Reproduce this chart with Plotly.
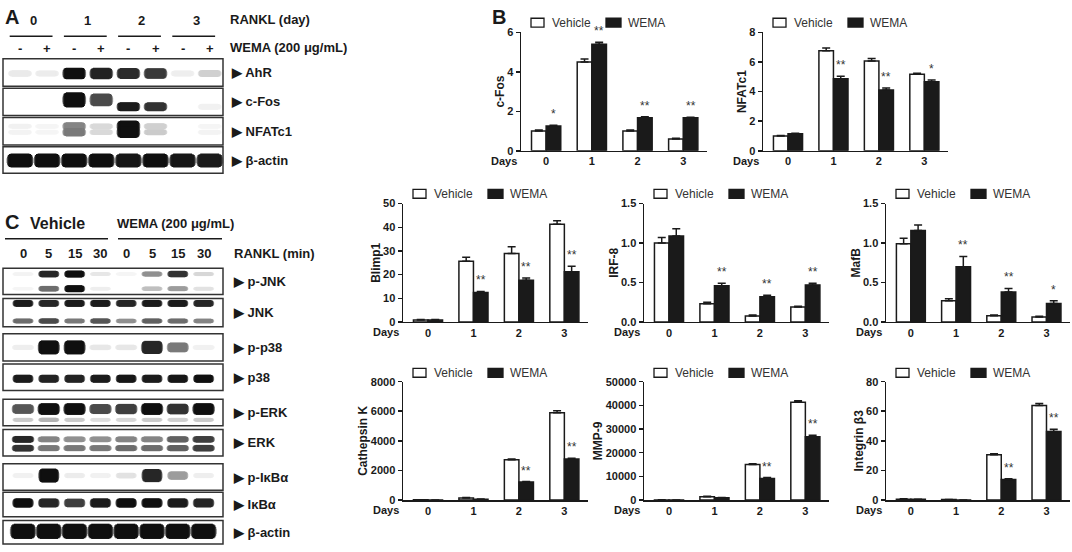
import plotly.graph_objects as go

W, H = 1072, 552
FONT = "Liberation Sans, Arial, Helvetica, sans-serif"
INK = "#1a1a1a"


def px_x(p):
    return p / W


def px_y(p):
    return 1 - p / H


# ---------------------------------------------------------------- panel B data
DAYS = [0, 1, 2, 3]
DAY_TICKS = ["0", "1", "2", "3"]
SERIES_NAMES = ["Vehicle", "WEMA"]

cfos_vehicle = [1.00, 4.50, 1.00, 0.60]
cfos_vehicle_sem = [0.05, 0.15, 0.05, 0.03]
cfos_wema = [1.25, 5.40, 1.68, 1.67]
cfos_wema_sem = [0.04, 0.10, 0.04, 0.03]
cfos_sig = ["*", "**", "**", "**"]

nfatc1_vehicle = [1.00, 6.76, 6.06, 5.18]
nfatc1_vehicle_sem = [0.04, 0.18, 0.17, 0.06]
nfatc1_wema = [1.15, 4.87, 4.10, 4.67]
nfatc1_wema_sem = [0.03, 0.17, 0.15, 0.11]
nfatc1_sig = ["", "**", "**", "*"]

blimp1_vehicle = [0.8, 25.6, 28.9, 41.3]
blimp1_vehicle_sem = [0.2, 1.7, 2.9, 1.5]
blimp1_wema = [0.8, 12.4, 17.6, 21.2]
blimp1_wema_sem = [0.2, 0.5, 1.0, 2.3]
blimp1_sig = ["", "**", "**", "**"]

irf8_vehicle = [1.00, 0.23, 0.075, 0.19]
irf8_vehicle_sem = [0.07, 0.02, 0.015, 0.01]
irf8_wema = [1.09, 0.46, 0.32, 0.47]
irf8_wema_sem = [0.09, 0.03, 0.02, 0.02]
irf8_sig = ["", "**", "**", "**"]

mafb_vehicle = [0.99, 0.27, 0.08, 0.062]
mafb_vehicle_sem = [0.07, 0.025, 0.008, 0.012]
mafb_wema = [1.16, 0.70, 0.38, 0.235]
mafb_wema_sem = [0.07, 0.13, 0.045, 0.035]
mafb_sig = ["", "**", "**", "*"]

cathk_vehicle = [10, 130, 2720, 5890]
cathk_vehicle_sem = [5, 40, 60, 150]
cathk_wema = [5, 60, 1210, 2770]
cathk_wema_sem = [3, 10, 40, 60]
cathk_sig = ["", "", "**", "**"]

mmp9_vehicle = [60, 1400, 15000, 41300]
mmp9_vehicle_sem = [20, 200, 300, 600]
mmp9_wema = [20, 950, 9100, 26700]
mmp9_wema_sem = [10, 80, 400, 700]
mmp9_sig = ["", "", "**", "**"]

itgb3_vehicle = [0.6, 0.3, 30.6, 63.9]
itgb3_vehicle_sem = [0.2, 0.1, 0.7, 1.3]
itgb3_wema = [0.5, 0.05, 13.9, 46.3]
itgb3_wema_sem = [0.1, 0.02, 0.4, 1.5]
itgb3_sig = ["", "", "**", "**"]

# ---------------------------------------------------------------- panel A data
# relative band intensity per lane (0 = no band, 1 = saturated)
A_DAY_LABELS = ["0", "1", "2", "3"]
A_TREATMENT = ["-", "+", "-", "+", "-", "+", "-", "+"]
A_ROWS = ["AhR", "c-Fos", "NFATc1", "β-actin"]
A_AhR = [0.07, 0.06, 1.00, 0.92, 0.88, 0.82, 0.05, 0.18]
A_cFos_upper = [0, 0, 1.00, 0.75, 0, 0, 0, 0]
A_cFos_lower = [0, 0, 0, 0, 0.95, 0.85, 0, 0.04]
A_NFATc1_upper = [0.04, 0.02, 0.50, 0.14, 1.00, 0.18, 0, 0.02]
A_NFATc1_lower = [0.03, 0.02, 0.55, 0.14, 1.00, 0.20, 0, 0.03]
A_actin = [1.00, 1.00, 1.00, 1.00, 0.97, 1.00, 0.97, 0.95]

# ---------------------------------------------------------------- panel C data
C_TIMES = ["0", "5", "15", "30", "0", "5", "15", "30"]
C_ROWS = ["p-JNK", "JNK", "p-p38", "p38", "p-ERK", "ERK", "p-IκBα", "IκBα", "β-actin"]
C_pJNK_upper = [0.03, 0.90, 1.00, 0.08, 0.02, 0.45, 0.85, 0.15]
C_pJNK_lower = [0.02, 0.60, 1.00, 0.05, 0.00, 0.25, 0.40, 0.10]
C_JNK_upper = [0.95, 0.90, 0.95, 0.95, 0.90, 0.95, 0.95, 0.90]
C_JNK_lower = [0.60, 0.75, 0.55, 0.70, 0.45, 0.65, 0.60, 0.50]
C_pp38 = [0.05, 1.00, 1.00, 0.08, 0.08, 0.90, 0.55, 0.04]
C_p38 = [0.95, 0.92, 0.92, 0.95, 0.97, 0.95, 0.97, 1.00]
C_pERK_upper = [0.70, 1.00, 1.00, 0.75, 0.80, 1.00, 0.85, 1.00]
C_pERK_lower = [0.20, 0.30, 0.20, 0.12, 0.15, 0.20, 0.18, 0.20]
C_ERK_upper = [0.90, 0.50, 0.45, 0.45, 0.50, 0.50, 0.65, 0.80]
C_ERK_lower = [0.85, 0.55, 0.55, 0.55, 0.60, 0.60, 0.65, 0.80]
C_pIkBa = [0.04, 1.00, 0.06, 0.04, 0.10, 0.90, 0.40, 0.05]
C_IkBa = [1.00, 0.90, 0.80, 0.95, 1.00, 1.00, 0.95, 0.90]
C_actin = [1.00, 1.00, 1.00, 1.00, 1.00, 1.00, 1.00, 1.00]

# ================================================================ figure
fig = go.Figure()
layout = dict(
    width=W, height=H, autosize=False,
    margin=dict(l=0, r=0, t=0, b=0),
    paper_bgcolor="white", plot_bgcolor="rgba(0,0,0,0)",
    barmode="overlay", showlegend=False,
    font=dict(family=FONT, color=INK),
)
annotations = []
shapes = []


def text(x, y, s, size=13, bold=True, xanchor="center", xref="paper",
         yref="paper", color=INK, yanchor="middle", yshift=0):
    annotations.append(dict(
        x=x, y=y, xref=xref, yref=yref, text=s, showarrow=False,
        xanchor=xanchor, yanchor=yanchor, yshift=yshift,
        font=dict(size=size, family=FONT, color=color,
                  weight="bold" if bold else "normal")))


def legend_key(ax_px, y_px):
    """Per-chart key: open box = Vehicle, filled box = WEMA."""
    for (b0, b1, tx), fill, name in zip(
            [(10, 23, 29), (85, 100, 105)], ["white", INK], SERIES_NAMES):
        shapes.append(dict(type="rect", xref="paper", yref="paper",
                           x0=px_x(ax_px + b0), x1=px_x(ax_px + b1),
                           y0=px_y(y_px + 4.5), y1=px_y(y_px - 4.5),
                           fillcolor=fill, line=dict(color=INK, width=1.3)))
        text(px_x(ax_px + tx), px_y(y_px), name, size=12, bold=False,
             xanchor="left", color="#333")


# ---------------------------------------------------------------- bar charts
CHARTS = [
    dict(title="c-Fos", v=cfos_vehicle, ve=cfos_vehicle_sem, w=cfos_wema,
         we=cfos_wema_sem, sig=cfos_sig, yr=[0, 6], dt=2, fmt="d",
         box=(521, 707, 27, 148), leg=17),
    dict(title="NFATc1", v=nfatc1_vehicle, ve=nfatc1_vehicle_sem, w=nfatc1_wema,
         we=nfatc1_wema_sem, sig=nfatc1_sig, yr=[0, 8], dt=2, fmt="d",
         box=(763, 948, 27, 148), leg=17),
    dict(title="Blimp1", v=blimp1_vehicle, ve=blimp1_vehicle_sem, w=blimp1_wema,
         we=blimp1_wema_sem, sig=blimp1_sig, yr=[0, 50], dt=10, fmt="d",
         box=(403, 588, 202, 323), leg=192),
    dict(title="IRF-8", v=irf8_vehicle, ve=irf8_vehicle_sem, w=irf8_wema,
         we=irf8_wema_sem, sig=irf8_sig, yr=[0, 1.5], dt=0.5, fmt=".1f",
         box=(644, 829, 202, 323), leg=192),
    dict(title="MafB", v=mafb_vehicle, ve=mafb_vehicle_sem, w=mafb_wema,
         we=mafb_wema_sem, sig=mafb_sig, yr=[0, 1.5], dt=0.5, fmt=".1f",
         box=(886, 1070, 202, 323), leg=192),
    dict(title="Cathepsin K", v=cathk_vehicle, ve=cathk_vehicle_sem, w=cathk_wema,
         we=cathk_wema_sem, sig=cathk_sig, yr=[0, 8000], dt=2000, fmt="d",
         box=(403, 588, 384, 505), leg=375),
    dict(title="MMP-9", v=mmp9_vehicle, ve=mmp9_vehicle_sem, w=mmp9_wema,
         we=mmp9_wema_sem, sig=mmp9_sig, yr=[0, 50000], dt=10000, fmt="d",
         box=(644, 829, 384, 505), leg=375),
    dict(title="Integrin β3", v=itgb3_vehicle, ve=itgb3_vehicle_sem, w=itgb3_wema,
         we=itgb3_wema_sem, sig=itgb3_sig, yr=[0, 80], dt=20, fmt="d",
         box=(886, 1070, 384, 505), leg=375),
]

BAR_W = 0.32
for i, c in enumerate(CHARTS, start=1):
    sfx = "" if i == 1 else str(i)
    xa, ya = "x" + sfx, "y" + sfx
    x0, x1, y0, y1 = c["box"]
    layout["xaxis" + sfx] = dict(
        domain=[px_x(x0), px_x(x1)], anchor=ya, range=[-0.55, 3.52],
        tickmode="array", tickvals=DAYS, ticktext=DAY_TICKS,
        showline=True, linecolor=INK, linewidth=1.5, ticks="",
        showgrid=False, zeroline=False, fixedrange=True,
        tickfont=dict(size=11, family=FONT, color=INK, weight="bold"))
    layout["yaxis" + sfx] = dict(
        domain=[px_y(y1), px_y(y0)], anchor=xa, range=c["yr"],
        tick0=0, dtick=c["dt"], tickformat=c["fmt"],
        showline=True, linecolor=INK, linewidth=1.5,
        ticks="outside", ticklen=4, tickwidth=1.5, tickcolor=INK,
        showgrid=False, zeroline=False, fixedrange=True,
        tickfont=dict(size=11, family=FONT, color=INK, weight="bold"),
        title=dict(text=c["title"], standoff=0,
                   font=dict(size=12, family=FONT, color=INK, weight="bold")))
    fig.add_trace(go.Bar(
        x=DAYS, y=c["v"], name=SERIES_NAMES[0], offset=-BAR_W, width=BAR_W,
        marker=dict(color="white", line=dict(color=INK, width=1.5)),
        error_y=dict(type="data", array=c["ve"], arrayminus=[0] * len(DAYS),
                     symmetric=False, color=INK, thickness=1.5, width=4),
        xaxis=xa, yaxis=ya, hoverinfo="skip"))
    fig.add_trace(go.Bar(
        x=DAYS, y=c["w"], name=SERIES_NAMES[1], offset=0, width=BAR_W,
        marker=dict(color=INK, line=dict(color=INK, width=1.5)),
        error_y=dict(type="data", array=c["we"], arrayminus=[0] * len(DAYS),
                     symmetric=False, color=INK, thickness=1.5, width=4),
        xaxis=xa, yaxis=ya, hoverinfo="skip"))
    for d, val, err, s in zip(DAYS, c["w"], c["we"], c["sig"]):
        if s:
            text(d + BAR_W / 2, val + err, s, size=12, bold=False, xref=xa,
                 yref=ya, yanchor="bottom", yshift=2, color="#333")
    text(px_x(x0 - 2), px_y(y1 + 10), "Days", size=11, xanchor="right")
    legend_key(x0, c["leg"])

text(px_x(490), px_y(11), "B", size=20, xanchor="left")

# ---------------------------------------------------------------- blots
def gray(level):
    level = max(0.0, min(1.0, level))
    v = int(round(250 - 235 * level))
    return f"rgb({v},{v},{v})"


# stacked layers (width factor, height factor, darkness factor) give each
# band a soft, rounded outline
BAND_LAYERS = [(1.0, 0.40, 0.40), (0.96, 0.70, 0.70), (0.90, 0.95, 0.95),
               (0.82, 1.10, 1.0), (0.70, 1.20, 1.0)]


def blot_traces(specs, xa, ya):
    out = []
    for wf, hf, cf in BAND_LAYERS:
        xs, bases, hs, ws, offs, cols = [], [], [], [], [], []
        for inten, yc, h0, h1, bw in specs:
            for lane, val in enumerate(inten):
                if val <= 0:
                    continue
                h = (h0 + h1 * val) * hf
                w = bw * wf
                xs.append(lane)
                bases.append(yc - h / 2)
                hs.append(h)
                ws.append(w)
                offs.append(-w / 2)
                cols.append(gray(val * cf))
        out.append(go.Bar(
            x=xs, y=hs, base=bases, width=ws, offset=offs,
            marker=dict(color=cols, line=dict(width=0)),
            xaxis=xa, yaxis=ya, showlegend=False, hoverinfo="skip"))
    return out


# Panel A geometry (lane index -> pixel)
A_L0, A_STEP = 20.0, 27.1
layout["xaxis9"] = dict(domain=[0, px_x(228)], anchor="y9", visible=False,
                        range=[(0 - A_L0) / A_STEP, (228 - A_L0) / A_STEP],
                        fixedrange=True)
layout["yaxis9"] = dict(domain=[px_y(200), 1], anchor="x9", visible=False,
                        range=[200, 0], fixedrange=True)
A_BOXES = [(54, 82), (84, 112), (114, 142), (144, 171)]
A_SPECS = [
    (A_AhR, 69, 5, 5, 0.88),
    (A_cFos_upper, 96, 5, 8, 0.88),
    (A_cFos_lower, 103, 5, 3, 0.88),
    (A_NFATc1_upper, 123, 4, 6, 0.88),
    (A_NFATc1_lower, 129, 4, 6, 0.88),
    (A_actin, 158, 9, 3, 1.0),
]
for t in blot_traces(A_SPECS, "x9", "y9"):
    fig.add_trace(t)
ax0, ax1 = (3 - A_L0) / A_STEP, (223 - A_L0) / A_STEP
for (top, bot), name in zip(A_BOXES, A_ROWS):
    shapes.append(dict(type="rect", xref="x9", yref="y9", x0=ax0, x1=ax1,
                       y0=top, y1=bot, line=dict(color="#333", width=1.5)))
    text(px_x(229), (top + bot) / 2, "▶ " + name, size=13, xanchor="left",
         yref="y9")
for k, lab in enumerate(A_DAY_LABELS):
    text(2 * k + 0.5, 15, lab, size=13, xref="x9", yref="y9")
    shapes.append(dict(type="line", xref="x9", yref="y9", x0=2 * k - 0.38,
                       x1=2 * k + 1.2, y0=31, y1=31,
                       line=dict(color=INK, width=1.5)))
for lane, lab in enumerate(A_TREATMENT):
    text(lane, 43, lab, size=13, xref="x9", yref="y9")
text(px_x(228), 14, "RANKL (day)", size=13, xanchor="left", yref="y9")
text(px_x(228), 42, "WEMA (200 μg/mL)", size=13, xanchor="left", yref="y9")
text(px_x(3), 11, "A", size=20, xanchor="left", yref="y9")

# Panel C geometry
C_L0, C_STEP = 23.0, 25.8
layout["xaxis10"] = dict(domain=[0, px_x(228)], anchor="y10", visible=False,
                         range=[(0 - C_L0) / C_STEP, (228 - C_L0) / C_STEP],
                         fixedrange=True)
layout["yaxis10"] = dict(domain=[0, px_y(200)], anchor="x10", visible=False,
                         range=[552, 200], fixedrange=True)
C_BOXES = [(268, 295), (299, 328), (335, 363), (366, 393), (402, 429),
           (433, 460), (468, 495), (497, 522), (526, 550)]
C_SPECS = [
    (C_pJNK_upper, 274, 3, 3, 0.82),
    (C_pJNK_lower, 289, 3, 3, 0.82),
    (C_JNK_upper, 304, 4, 2, 0.82),
    (C_JNK_lower, 322, 3, 2, 0.82),
    (C_pp38, 349, 4, 8, 0.86),
    (C_p38, 381, 5, 2, 0.82),
    (C_pERK_upper, 412, 4, 6, 0.88),
    (C_pERK_lower, 423, 3, 2, 0.82),
    (C_ERK_upper, 443, 4, 2, 0.88),
    (C_ERK_lower, 452, 4, 2, 0.88),
    (C_pIkBa, 480, 4, 8, 0.82),
    (C_IkBa, 508, 5, 3, 0.84),
    (C_actin, 537, 10, 3, 1.02),
]
for t in blot_traces(C_SPECS, "x10", "y10"):
    fig.add_trace(t)
cx0, cx1 = (3 - C_L0) / C_STEP, (223 - C_L0) / C_STEP
for (top, bot), name in zip(C_BOXES, C_ROWS):
    shapes.append(dict(type="rect", xref="x10", yref="y10", x0=cx0, x1=cx1,
                       y0=top, y1=bot, line=dict(color="#333", width=1.5)))
    text(px_x(231), (top + bot) / 2, "▶ " + name, size=13, xanchor="left",
         yref="y10")
for lane, lab in enumerate(C_TIMES):
    text(lane, 253, lab, size=13, xref="x10", yref="y10")
text(px_x(232), 253, "RANKL (min)", size=13, xanchor="left", yref="y10")
text(px_x(57), 222, "Vehicle", size=16, yref="y10")
text(px_x(115), 222, "WEMA (200 μg/mL)", size=13, xanchor="left", yref="y10")
text(px_x(3), 221, "C", size=20, xanchor="left", yref="y10")
for a, b in [(5, 108), (118, 222)]:
    shapes.append(dict(type="line", xref="paper", yref="y10", x0=px_x(a),
                       x1=px_x(b), y0=238, y1=238,
                       line=dict(color=INK, width=1.5)))

layout["annotations"] = annotations
layout["shapes"] = shapes
fig.update_layout(**layout)
fig.write_html(
    "out.html",
    config={"displayModeBar": False, "staticPlot": True},
    post_script="document.body.style.margin='0px';"
                "document.body.style.overflow='hidden';")
